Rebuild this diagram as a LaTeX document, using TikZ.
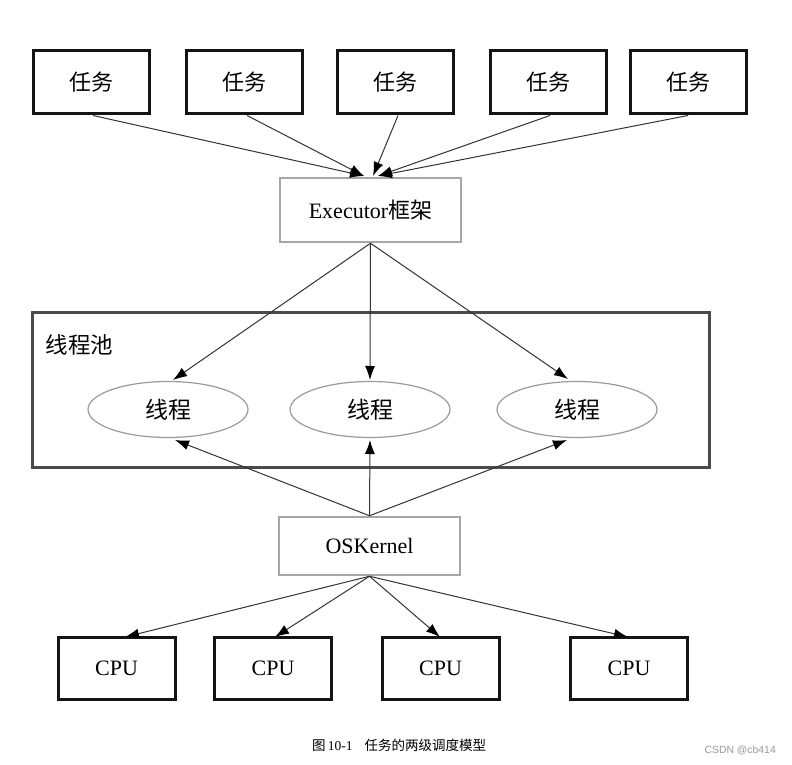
\documentclass[tikz,border=0pt]{standalone}
\usepackage{fontspec}
\setmainfont{Liberation Serif}
\newfontfamily\cjk{Noto Sans CJK SC}
\newfontfamily\wmfont{Liberation Sans}
\usetikzlibrary{arrows.meta,shapes.geometric}
\definecolor{arrowc}{HTML}{333333}
\definecolor{grayborder}{HTML}{A6A6A6}
\definecolor{poolborder}{HTML}{4A4A4A}
\definecolor{ellborder}{HTML}{9A9A9A}
\tikzset{
  taskbox/.style={draw=black!92, line width=3pt, minimum width=116pt, minimum height=63pt, inner sep=0pt,
    font=\fontsize{22}{26}\selectfont},
  cpubox/.style={draw=black!92, line width=3pt, minimum width=117pt, minimum height=62pt, inner sep=0pt,
    font=\fontsize{22}{26}\selectfont},
  graybox/.style={draw=grayborder, line width=2.5pt, minimum width=181pt, inner sep=0pt,
    font=\fontsize{22}{26}\selectfont},
  thread/.style={ellipse, draw=ellborder, line width=1.2pt, minimum width=160pt, minimum height=56pt, inner sep=0pt,
    font=\fontsize{23}{27}\selectfont},
  conn/.style={draw=arrowc, line width=1pt, -{Latex[length=14pt,width=10pt,black]}}
}
\begin{document}
\begin{tikzpicture}[x=1pt,y=-1pt]
\useasboundingbox (0,0) rectangle (792,765);
\fill[white] (0,0) rectangle (792,765);

% task boxes
\node[taskbox] (t1) at (91,82.5) {\cjk 任务};
\node[taskbox] (t2) at (244,82.5) {\cjk 任务};
\node[taskbox] (t3) at (395.5,82.5) {\cjk 任务};
\node[taskbox] (t4) at (548,82.5) {\cjk 任务};
\node[taskbox] (t5) at (688,82.5) {\cjk 任务};

% executor
\node[graybox, minimum height=64pt] (exec) at (370.5,210) {Executor{\cjk 框架}};

% thread pool
\node[draw=poolborder, line width=3pt, minimum width=677pt, minimum height=155pt, inner sep=0pt] (pool) at (370.5,389.5) {};
\node[anchor=center, font=\fontsize{22.5}{26}\selectfont, inner sep=0pt] (poollabel) at (79.5,345) {\cjk 线程池};

\node[thread] (e1) at (168,409.5) {\cjk 线程};
\node[thread] (e2) at (370,409.5) {\cjk 线程};
\node[thread] (e3) at (577,409.5) {\cjk 线程};

% OS kernel
\node[graybox, minimum height=58pt] (os) at (369.5,546) {OSKernel};

% CPUs
\node[cpubox] (c1) at (116.5,668.5) {CPU};
\node[cpubox] (c2) at (273,668.5) {CPU};
\node[cpubox] (c3) at (440.5,668.5) {CPU};
\node[cpubox] (c4) at (629,668.5) {CPU};

% target coordinates
\coordinate (xa) at (364,176);
\coordinate (xb) at (373,176);
\coordinate (xc) at (378,176);
\coordinate (ea1) at (173,380);
\coordinate (ea2) at (370,380);
\coordinate (ea3) at (568,379);
\coordinate (eb1) at (175,440);
\coordinate (eb2) at (370,440);
\coordinate (eb3) at (567,440);
\coordinate (ca1) at (125,637);
\coordinate (ca2) at (275,637);
\coordinate (ca3) at (440,637);
\coordinate (ca4) at (628,637);

% task -> executor
\draw[conn] ([xshift=2pt]t1.south) -- (xa);
\draw[conn] ([xshift=3pt]t2.south) -- (xa);
\draw[conn] ([xshift=2.5pt]t3.south) -- (xb);
\draw[conn] ([xshift=2pt]t4.south) -- (xc);
\draw[conn] (t5.south) -- (xc);

% executor -> threads
\draw[conn] (exec.south) -- (ea1);
\draw[conn] (exec.south) -- (ea2);
\draw[conn] (exec.south) -- (ea3);

% os -> threads
\draw[conn] (os.north) -- (eb1);
\draw[conn] (os.north) -- (eb2);
\draw[conn] (os.north) -- (eb3);

% os -> cpus
\draw[conn] (os.south) -- (ca1);
\draw[conn] (os.south) -- (ca2);
\draw[conn] (os.south) -- (ca3);
\draw[conn] (os.south) -- (ca4);

% caption
\node[anchor=west, inner sep=0pt, font=\fontsize{13.5}{16}\selectfont] (cap) at (312,745) {{\cjk 图}\,10-1\hspace{12pt}{\cjk 任务的两级调度模型}};
\node[anchor=east, inner sep=0pt, text=black!40, font=\wmfont\fontsize{10.4}{12}\selectfont] (wm) at (776,750) {CSDN @cb414};
\end{tikzpicture}
\end{document}
